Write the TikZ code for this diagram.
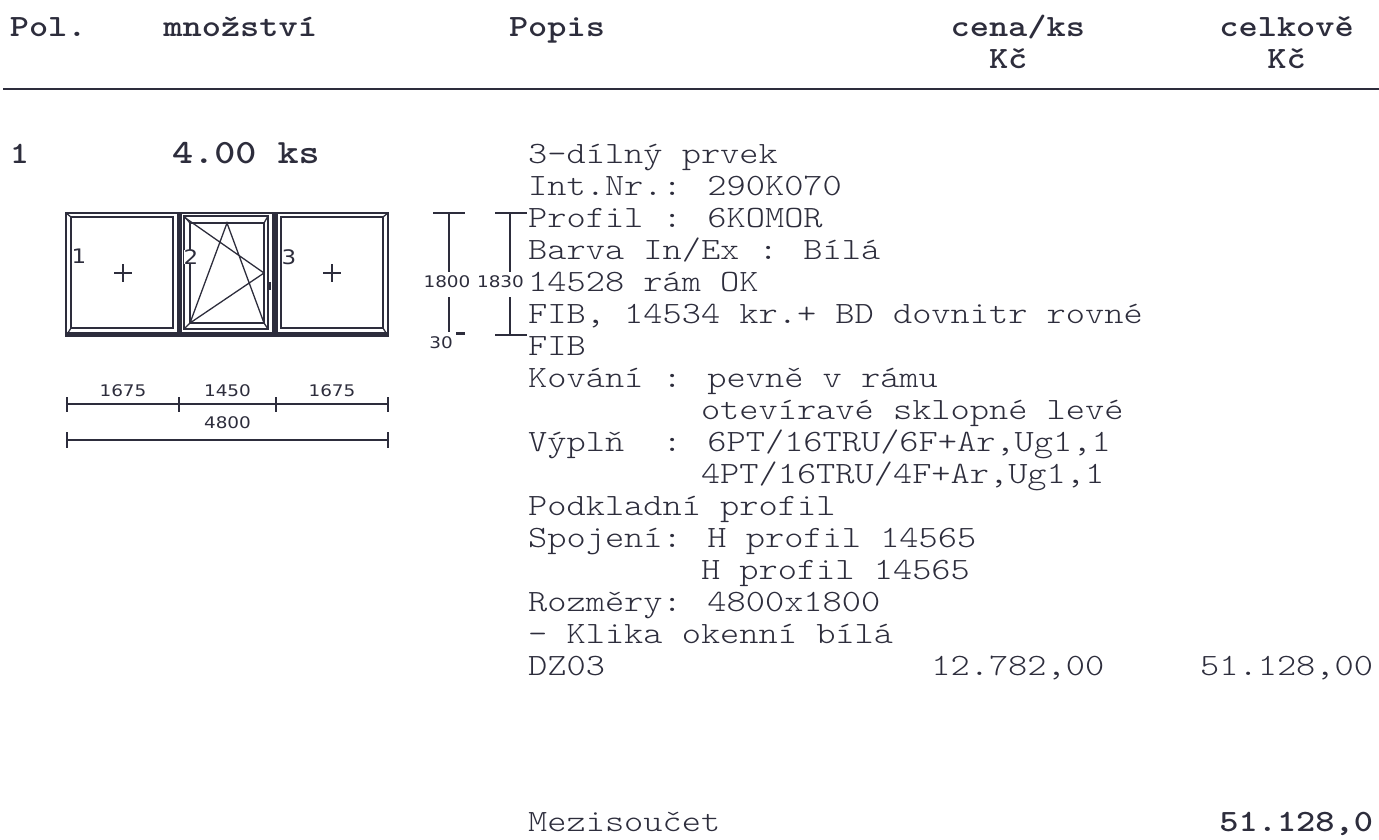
\documentclass[tikz,border=0pt]{standalone}
\usepackage{fontspec}
\setmainfont{lmmonolt10-regular.otf}[FakeStretch=1.18, BoldFont=lmmonolt10-bold.otf]
\newfontfamily\dimfont[FakeStretch=1.15]{DejaVu Sans}
\definecolor{ink}{RGB}{45,45,60}
\tikzset{
  txt/.style={anchor=base west, inner sep=0pt, text=ink, font=\fontsize{31}{31}\selectfont},
  hdr/.style={txt, font=\fontsize{31}{31}\selectfont\bfseries},
  dimtxt/.style={inner sep=0pt, text=ink, font=\dimfont\fontsize{16}{16}\selectfont},
  panetxt/.style={dimtxt, font=\dimfont\fontsize{20}{20}\selectfont},
  pane/.style={draw=ink, line width=1.3pt}
}
\begin{document}
\begin{tikzpicture}[x=1pt,y=-1pt]
    \useasboundingbox (0,0) rectangle (1379,839);
    % header row
    \node[hdr] (pol) at (9.6,36) {Pol.};
    \node[hdr] (mnoz) at (163.2,36) {množství};
    \node[hdr] (popis) at (508.8,36) {Popis};
    \node[hdr] (cena) at (950.4,36) {cena/ks};
    \node[hdr] (kc1) at (988.8,68) {Kč};
    \node[hdr] (celk) at (1219.2,36) {celkově};
    \node[hdr] (kc2) at (1267.2,68) {Kč};
    \draw[ink, line width=1.6pt] (3,89) -- (1379,89);
    % item
    \node[hdr] (pos) at (9.6,163) {1};
    \node[hdr, font=\fontsize{34}{34}\selectfont\bfseries] (qty) at (172,163) {4.00 ks};
    \node[txt] (b0) at (528,163) {3-dílný prvek};
    \node[txt] (b1) at (528,195) {Int.Nr.: 290K070};
    \node[txt] (b2) at (528,227) {Profil : 6KOMOR};
    \node[txt] (b3) at (528,259) {Barva In/Ex : Bílá};
    \node[txt] (b4) at (528,291) {14528 rám OK};
    \node[txt] (b5) at (528,323) {FIB, 14534 kr.+ BD dovnitr rovné};
    \node[txt] (b6) at (528,355) {FIB};
    \node[txt] (b7) at (528,387) {Kování : pevně v rámu};
    \node[txt] (b8) at (700.8,419) {otevíravé sklopné levé};
    \node[txt] (b9) at (528,451) {Výplň\ \ : 6PT/16TRU/6F+Ar,Ug1,1};
    \node[txt] (b10) at (700.8,483) {4PT/16TRU/4F+Ar,Ug1,1};
    \node[txt] (b11) at (528,515) {Podkladní profil};
    \node[txt] (b12) at (528,547) {Spojení: H profil 14565};
    \node[txt] (b13) at (700.8,579) {H profil 14565};
    \node[txt] (b14) at (528,611) {Rozměry: 4800x1800};
    \node[txt] (b15) at (528,643) {- Klika okenní bílá};
    \node[txt] (b16) at (528,675) {DZ03};
    \node[txt] (price) at (931.2,675) {12.782,00};
    \node[txt] (total) at (1200,675) {51.128,00};
    % subtotal
    \node[txt] (sub) at (528,831) {Mezisoučet};
    \node[hdr] (subval) at (1219.2,831) {51.128,0};
    % window
    \draw[pane, line width=1.7pt] (66,213) rectangle (388,336);
    \foreach \a/\b in {71/173, 281/383}
      \draw[pane] (\a,217) rectangle (\b,328);
    \draw[pane] (66,213) -- (71,217) (66,336) -- (71,328)
                (388,213) -- (383,217) (388,336) -- (383,328);
    \fill[ink] (176.5,213) rectangle (182,336);
    \fill[ink] (272,213) rectangle (277.5,336);
    \draw[pane] (184,216) rectangle (268,329);
    \draw[pane] (190,223) rectangle (264,323);
    \draw[pane] (184,216) -- (190,223) (268,216) -- (264,223)
                (184,329) -- (190,323) (268,329) -- (264,323);
    \draw[ink, line width=3pt] (66,333.5) -- (388,333.5);
    \draw[pane] (184,217) -- (264,273) -- (190,323) -- (227,223) -- (264,323);
    \fill[ink] (267,282) rectangle (271,290);
    \foreach \x in {123,332}
      \draw[pane] (\x-9,273) -- (\x+9,273) (\x,264) -- (\x,282);
    \node[panetxt] (p1) at (79,256) {1};
    \node[panetxt, fill=white] (p2) at (191,257) {2};
    \node[panetxt] (p3) at (289,257) {3};
    % widths
    \draw[pane] (67,404) -- (388,404);
    \foreach \x in {67,179,276,388}
      \draw[pane] (\x,397) -- (\x,412);
    \node[dimtxt] (w1) at (123,391) {1675};
    \node[dimtxt] (w2) at (227.5,391) {1450};
    \node[dimtxt] (w3) at (332,391) {1675};
    \draw[pane] (67,440) -- (388,440);
    \foreach \x in {67,388}
      \draw[pane] (\x,432) -- (\x,448);
    \node[dimtxt] (w4) at (227.5,423) {4800};
    % heights
    \node[dimtxt] (h1) at (447,281.5) {1800};
    \node[dimtxt] (h2) at (500.5,281.5) {1830};
    \node[dimtxt] (h3) at (441,343) {30};
    \draw[pane] (433,213) -- (465,213) (449,213) -- (449,272) (449,297) -- (449,332);
    \draw[ink, line width=3pt] (456,333) -- (465,333);
    \draw[pane] (495,213) -- (527,213) (510,213) -- (510,272) (510,297) -- (510,335)
                (495,335) -- (527,335);
\end{tikzpicture}
\end{document}
